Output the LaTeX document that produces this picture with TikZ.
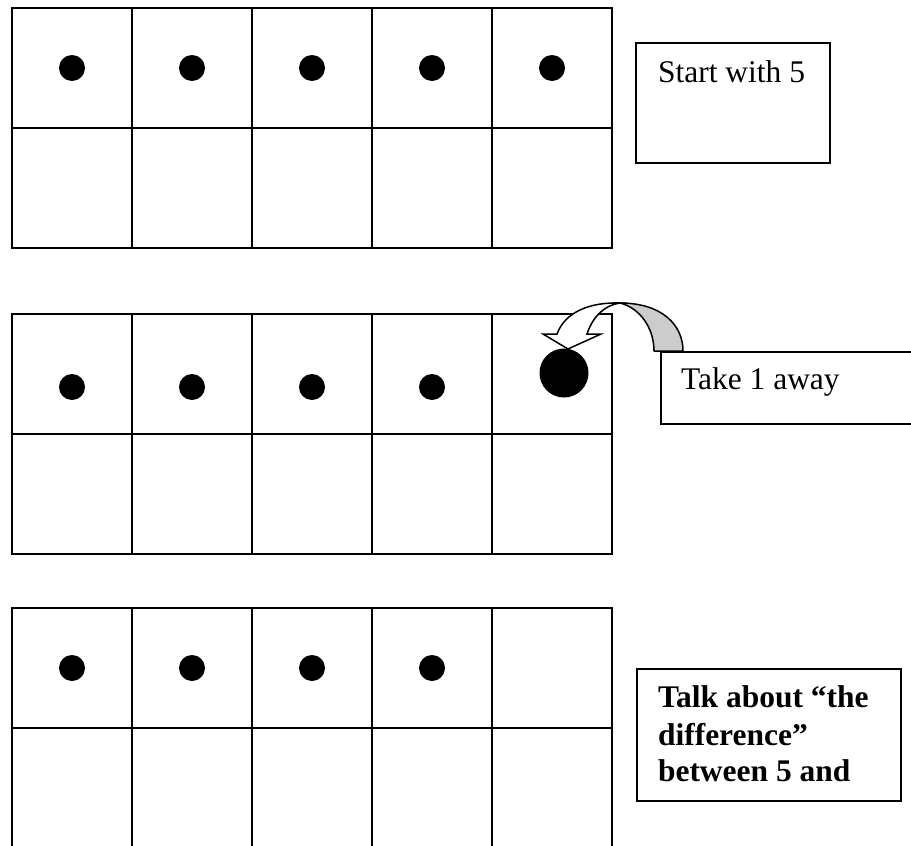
\documentclass[tikz,border=0pt]{standalone}
\usepackage{fontspec}
\setmainfont{Liberation Serif}
\begin{document}
\begin{tikzpicture}[x=1pt,y=-1pt,line width=2pt]
\tikzset{
  dot/.style={circle,fill=black,draw=none,inner sep=0pt,minimum size=26pt},
  bigdot/.style={circle,fill=black,draw=none,inner sep=0pt,minimum size=49pt},
  boxshape/.style={draw,line width=2pt,fill=white,inner sep=0pt,anchor=north west},
  txt/.style={anchor=base west,inner sep=0pt,font=\fontsize{31.5}{37}\selectfont},
  btxt/.style={txt,font=\fontsize{31.5}{37}\selectfont\bfseries},
  cellline/.style={line width=2pt},
  ribbonback/.style={fill=black!20,draw=black,line width=1.5pt,line join=round},
  ribbonfront/.style={fill=white,draw=black,line width=1.5pt,line join=miter}
}
\useasboundingbox (0,0) rectangle (911,846);
\clip (0,0) rectangle (911,846);
% ten-frames
\foreach \t in {8,314,608} {
  \draw[cellline] (12,\t) rectangle (612,\t+240);
  \draw[cellline] (12,\t+120) -- (612,\t+120);
  \foreach \x in {132,252,372,492} \draw[cellline] (\x,\t) -- (\x,\t+240);
}
% dots, frame 1
\node[dot] (a1) at (72,68) {};
\node[dot] (a2) at (192,68) {};
\node[dot] (a3) at (312,68) {};
\node[dot] (a4) at (432,68) {};
\node[dot] (a5) at (552,68) {};
% dots, frame 2
\node[dot] (b1) at (72,387) {};
\node[dot] (b2) at (192,387) {};
\node[dot] (b3) at (312,387) {};
\node[dot] (b4) at (432,387) {};
% dots, frame 3
\node[dot] (c1) at (72,668) {};
\node[dot] (c2) at (192,668) {};
\node[dot] (c3) at (312,668) {};
\node[dot] (c4) at (432,668) {};
% text boxes
\node[boxshape,minimum width=194pt,minimum height=120pt] (startbox) at (635,42) {};
\node[txt] (starttext) at (657,82) {Start with 5};
\node[boxshape,minimum width=270pt,minimum height=72pt] (takebox) at (660,351) {};
\node[txt] (taketext) at (680,389) {Take 1 away};
\node[boxshape,minimum width=264pt,minimum height=132pt] (talkbox) at (636,668) {};
\node[btxt] (talk1) at (657,707) {Talk about “the};
\node[btxt] (talk2) at (657,745) {difference”};
\node[btxt] (talk3) at (657,781) {between 5 and};
% curved arrow
\draw[ribbonback] (620,303) .. controls (662,303) and (683,325) .. (683,351)
  -- (654,351) .. controls (654,328) and (640,308) .. (620,303) -- cycle;
\draw[ribbonfront] (620,303) .. controls (590,302) and (565,312) .. (557,334)
  -- (543,334) -- (568,349) -- (601,334) -- (587,334)
  .. controls (593,316) and (605,305) .. (620,303) -- cycle;
\node[bigdot] (big) at (564,373) {};
\end{tikzpicture}
\end{document}
